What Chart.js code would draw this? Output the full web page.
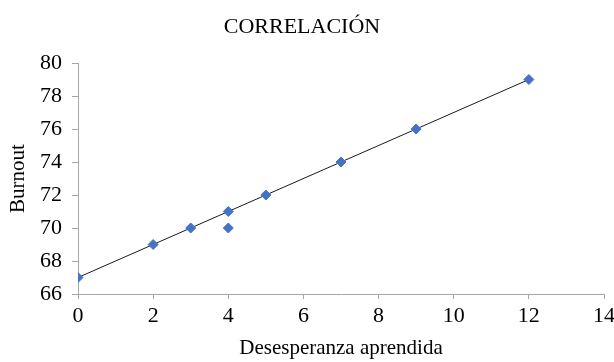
<!DOCTYPE html>
<html>
<head>
<meta charset="utf-8">
<script src="https://cdn.jsdelivr.net/npm/chart.js@4.4.1/dist/chart.umd.min.js"></script>
<style>
  html, body { margin: 0; padding: 0; background: #ffffff; }
  #caja { width: 614px; height: 362px; }
</style>
</head>
<body>
<div id="caja"><canvas id="grafico"></canvas></div>
<script>
// valores
var desesperanza = [0, 2, 3, 4, 4, 5, 7, 9, 12];
var burnout = [67, 69, 70, 71, 70, 72, 74, 76, 79];
// linea de tendencia (extremos)
var tendenciaX = [0, 12];
var tendenciaY = [67, 79];
var ticksX = [0, 2, 4, 6, 8, 10, 12, 14];
var ticksY = [66, 68, 70, 72, 74, 76, 78, 80];

var puntos = [];
for (var i = 0; i < desesperanza.length; i++) {
  puntos.push({ x: desesperanza[i], y: burnout[i] });
}
var tendencia = [];
for (var j = 0; j < tendenciaX.length; j++) {
  tendencia.push({ x: tendenciaX[j], y: tendenciaY[j] });
}

var fuente = "'Liberation Serif', 'Times New Roman', serif";
var gris = "#a6a6a6";

new Chart(document.getElementById("grafico").getContext("2d"), {
  type: "scatter",
  data: {
    datasets: [
      {
        label: "Tendencia",
        data: tendencia,
        showLine: true,
        borderColor: "#1a1a1a",
        borderWidth: 1,
        pointRadius: 0,
        order: 2
      },
      {
        label: "Burnout",
        data: puntos,
        pointStyle: "rectRot",
        pointRadius: 5,
        pointBackgroundColor: "#4472c4",
        pointBorderColor: "#4472c4",
        order: 1
      }
    ]
  },
  options: {
    responsive: true,
    maintainAspectRatio: false,
    animation: false,
    layout: { padding: { left: 0, right: 10, top: 0, bottom: 0 } },
    plugins: {
      legend: { display: false },
      tooltip: { enabled: false },
      title: {
        display: true,
        text: "CORRELACIÓN",
        color: "#000000",
        font: { family: fuente, size: 22, weight: "normal" },
        padding: { top: 14, bottom: 22.6 }
      }
    },
    scales: {
      x: {
        type: "linear",
        min: 0,
        max: 14,
        afterBuildTicks: function (eje) {
          eje.ticks = ticksX.map(function (v) { return { value: v }; });
        },
        border: { color: gris, width: 1 },
        grid: { drawOnChartArea: false, drawTicks: true, tickLength: 5, color: gris },
        ticks: { color: "#000000", font: { family: fuente, size: 22 }, padding: 4, maxRotation: 0 },
        title: {
          display: true,
          text: "Desesperanza aprendida",
          color: "#000000",
          font: { family: fuente, size: 21 },
          padding: { top: 0, bottom: 1 }
        },
        afterFit: function (eje) {
          eje.height = 68;
          eje.paddingLeft = 0;
          eje.paddingRight = 0;
        }
      },
      y: {
        type: "linear",
        min: 66,
        max: 80,
        afterBuildTicks: function (eje) {
          eje.ticks = ticksY.map(function (v) { return { value: v }; });
        },
        border: { color: gris, width: 1 },
        grid: { drawOnChartArea: false, drawTicks: true, tickLength: 6, color: gris },
        ticks: { color: "#000000", font: { family: fuente, size: 22 }, padding: 10 },
        title: {
          display: true,
          text: "Burnout",
          color: "#000000",
          font: { family: fuente, size: 21 },
          padding: { top: 6, bottom: 0 }
        },
        afterFit: function (eje) { eje.width = 78; }
      }
    }
  }
});
</script>
</body>
</html>
